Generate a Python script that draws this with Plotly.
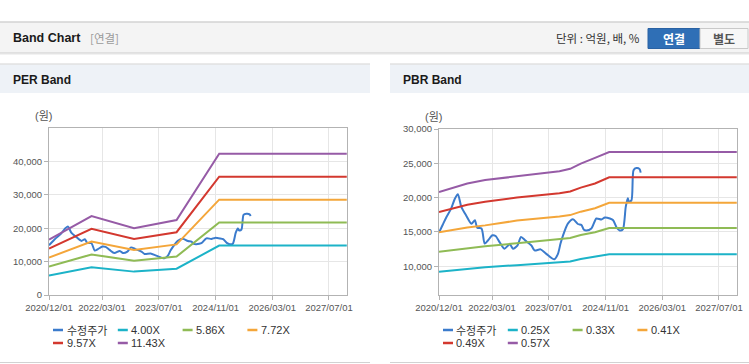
import plotly.graph_objects as go

# ---------------- data ----------------
price_name = "수정주가"
price_dates = [
    "2020-12-01", "2021-01-01", "2021-02-01", "2021-03-15", "2021-04-15", "2021-05-12",
    "2021-06-10", "2021-07-22", "2021-09-05", "2021-10-05", "2021-10-25", "2021-12-01",
    "2021-12-28", "2022-01-25", "2022-03-05", "2022-04-01", "2022-05-05", "2022-06-15",
    "2022-08-01", "2022-08-28", "2022-10-05", "2022-11-05", "2022-12-12", "2023-02-03",
    "2023-03-01", "2023-04-22", "2023-06-10", "2023-08-18", "2023-09-18", "2023-10-10",
    "2023-11-01", "2023-12-12", "2024-01-25", "2024-03-07", "2024-04-07", "2024-04-28",
    "2024-05-18", "2024-07-01", "2024-08-13", "2024-09-25", "2024-10-25", "2024-12-07",
    "2025-01-04", "2025-02-04", "2025-03-01", "2025-03-28", "2025-04-22", "2025-05-10",
    "2025-05-19", "2025-06-10", "2025-06-28", "2025-07-22", "2025-08-19", "2025-08-28",
]
price_values = [
    14900, 16000, 17100, 18400, 19800, 20500,
    18700, 17400, 16200, 16700, 15600, 15500,
    13300, 13750, 14500, 14400, 13500, 12550,
    13200, 12550, 13000, 14250, 13750, 13000,
    12300, 12450, 11800, 11000, 11800, 13300,
    14500, 16200, 16850, 16150, 16000, 15300,
    15200, 15500, 16950, 16800, 17100, 16950,
    16700, 15600, 15200, 15350, 18650, 19900,
    19400, 19600, 24000, 24300, 24150, 23650,
]

per_band_dates = ["2020-12-01", "2021-12-01", "2022-12-01", "2023-12-01", "2024-12-01", "2027-12-01"]
per_names = ["4.00X", "5.86X", "7.72X", "9.57X", "11.43X"]
per_400 = [5800, 8280, 7000, 7860, 14800, 14800]
per_586 = [8500, 12150, 10250, 11500, 21700, 21700]
per_772 = [11200, 16000, 13500, 15150, 28550, 28550]
per_957 = [13900, 19800, 16750, 18800, 35400, 35400]
per_1143 = [16600, 23650, 20000, 22450, 42300, 42300]

pbr_band_dates = ["2020-12-01", "2021-08-01", "2022-01-01", "2022-10-01", "2023-10-01",
                  "2024-01-01", "2024-04-01", "2024-08-01", "2024-12-01", "2027-12-01"]
pbr_names = ["0.25X", "0.33X", "0.41X", "0.49X", "0.57X"]
pbr_025 = [9200, 9600, 9850, 10150, 10550, 10700, 11050, 11350, 11750, 11750]
pbr_033 = [12100, 12600, 12900, 13350, 13900, 14100, 14550, 14950, 15550, 15550]
pbr_041 = [14950, 15650, 15950, 16650, 17250, 17450, 17950, 18450, 19250, 19250]
pbr_049 = [17900, 18950, 19380, 20000, 20650, 20900, 21450, 22050, 22950, 22950]
pbr_057 = [20800, 22050, 22550, 23150, 23850, 24200, 24950, 25800, 26650, 26650]

x_tick_vals = ["2020-12-01", "2022-03-01", "2023-07-01", "2024-11-01", "2026-03-01", "2027-07-01"]
x_tick_text = ["2020/12/01", "2022/03/01", "2023/07/01", "2024/11/01", "2026/03/01", "2027/07/01"]
per_y_ticks = [0, 10000, 20000, 30000, 40000]
pbr_y_ticks = [10000, 15000, 20000, 25000, 30000]
unit_label = "(원)"

# ---------------- style ----------------
W, H = 749, 364
price_color = "#3b7bcc"
band_colors = ["#1cb3c8", "#8fbb55", "#f4a63a", "#d3382f", "#965ba6"]
FONT = "Liberation Sans, Arial, Noto Sans CJK KR, sans-serif"
KFONT = "Noto Sans CJK KR, Liberation Sans, sans-serif"


def X(px):
    return px / W


def Y(py):
    return 1 - py / H


fig = go.Figure()

per_bands = [per_400, per_586, per_772, per_957, per_1143]
pbr_bands = [pbr_025, pbr_033, pbr_041, pbr_049, pbr_057]

# PER chart
fig.add_trace(go.Scatter(x=price_dates, y=price_values, name=price_name, mode="lines",
                         line=dict(color=price_color, width=2, shape="spline", smoothing=0.7),
                         xaxis="x", yaxis="y", showlegend=False))
for nm, vals, c in zip(per_names, per_bands, band_colors):
    fig.add_trace(go.Scatter(x=per_band_dates, y=vals, name=nm, mode="lines",
                             line=dict(color=c, width=2), xaxis="x", yaxis="y", showlegend=False))

# PBR chart
fig.add_trace(go.Scatter(x=price_dates, y=price_values, name=price_name, mode="lines",
                         line=dict(color=price_color, width=2, shape="spline", smoothing=0.7),
                         xaxis="x2", yaxis="y2", showlegend=False))
for nm, vals, c in zip(pbr_names, pbr_bands, band_colors):
    fig.add_trace(go.Scatter(x=pbr_band_dates, y=vals, name=nm, mode="lines",
                             line=dict(color=c, width=2), xaxis="x2", yaxis="y2", showlegend=False))

xaxis_common = dict(
    type="date", range=["2020-12-01", "2027-12-03"],
    tickvals=x_tick_vals, ticktext=x_tick_text,
    showgrid=True, gridcolor="#e6e6e6", gridwidth=1,
    showline=True, linecolor="#b3b3b3", linewidth=1, mirror=True,
    ticks="outside", ticklen=4, tickcolor="#b3b3b3",
    tickfont=dict(family=FONT, size=9.5, color="#555555"),
    zeroline=False, fixedrange=True, automargin=False,
)
yaxis_common = dict(
    showgrid=True, gridcolor="#e6e6e6", gridwidth=1,
    showline=True, linecolor="#b3b3b3", linewidth=1, mirror=True,
    ticks="outside", ticklen=4, tickcolor="#b3b3b3",
    tickfont=dict(family=FONT, size=9.5, color="#555555"),
    tickformat=",", zeroline=False, fixedrange=True, automargin=False,
)

fig.update_layout(
    width=W, height=H,
    margin=dict(l=0, r=0, t=0, b=0, autoexpand=False),
    paper_bgcolor="white", plot_bgcolor="white",
    showlegend=False,
    xaxis=dict(domain=[X(49), X(347)], anchor="y", **xaxis_common),
    yaxis=dict(domain=[Y(295), Y(128)], anchor="x", range=[0, 50000],
               tickvals=per_y_ticks, **yaxis_common),
    xaxis2=dict(domain=[X(439), X(737)], anchor="y2", **xaxis_common),
    yaxis2=dict(domain=[Y(295), Y(129)], anchor="x2", range=[5800, 30000],
                tickvals=pbr_y_ticks, **yaxis_common),
)

shapes = []
annotations = []


def rect(x0, y0, x1, y1, fill, line=None, lw=1):
    shapes.append(dict(type="rect", xref="paper", yref="paper",
                       x0=X(x0), x1=X(x1), y0=Y(y1), y1=Y(y0),
                       fillcolor=fill, line=dict(color=line or fill, width=lw if line else 0),
                       layer="below"))


def hline(x0, x1, y, color, w=1):
    shapes.append(dict(type="line", xref="paper", yref="paper",
                       x0=X(x0), x1=X(x1), y0=Y(y), y1=Y(y),
                       line=dict(color=color, width=w)))


def text(x, y, t, size=12, color="#222", bold=False, anchor="left", family=FONT):
    if bold:
        t = "<b>" + t + "</b>"
    annotations.append(dict(xref="paper", yref="paper", x=X(x), y=Y(y), text=t,
                            showarrow=False, xanchor=anchor, yanchor="middle",
                            font=dict(family=family, size=size, color=color)))


# top header bar
rect(0, 22.5, 749, 52.5, "#f4f4f4")
hline(0, 749, 22, "#bdbdbd")
hline(0, 749, 53, "#c6c6c6")
hline(0, 749, 54, "#e6e6e6")
text(11, 38, "Band Chart", 12.5, "#1a1a1a", bold=True)
text(88, 38, "[연결]", 11.5, "#9a9a9a", family=KFONT)
text(642, 38, "단위 : 억원, 배, %", 11.5, "#333333", anchor="right", family=KFONT)
rect(648, 28.5, 700, 48.5, "#2f6fb6", "#2a62a3")
rect(700, 28.5, 748, 48.5, "#f7f7f7", "#c9c9c9")
text(674, 38.5, "연결", 12, "white", bold=True, anchor="center", family=KFONT)
text(724, 38.5, "별도", 12, "#555555", bold=True, anchor="center", family=KFONT)

# panel headers
for (px0, px1, title) in [(0, 370, "PER Band"), (390, 749, "PBR Band")]:
    rect(px0, 64.5, px1, 93, "#eef2f7")
    hline(px0, px1, 64, "#d2d2d2")
    hline(px0, px1, 362.5, "#d2d2d2")
    text(px0 + 11, 80, title, 12, "#1a1a1a", bold=True)

# axis unit titles (placed relative to each plot area)
for xr, yr in [("x domain", "y domain"), ("x2 domain", "y2 domain")]:
    annotations.append(dict(xref=xr, yref=yr, x=-0.017, y=1.07, text=unit_label,
                            showarrow=False, xanchor="center", yanchor="middle",
                            font=dict(family=FONT, size=11, color="#555555")))

# legends
for base, names in [(53, [price_name] + per_names), (443, [price_name] + pbr_names)]:
    colors = [price_color] + band_colors
    for i, (nm, c) in enumerate(zip(names, colors)):
        col, row = i % 4, i // 4
        lx = base + col * 64.8
        ly = 330 + row * 13
        hline(lx, lx + 10, ly, c, 2.5)
        text(lx + 11.5, ly, nm, 11, "#333333", family=KFONT if nm == price_name else FONT)

fig.update_layout(shapes=shapes, annotations=annotations)

fig.write_html("out.html", config={"displayModeBar": False},
               post_script="document.body.style.margin='0';")
